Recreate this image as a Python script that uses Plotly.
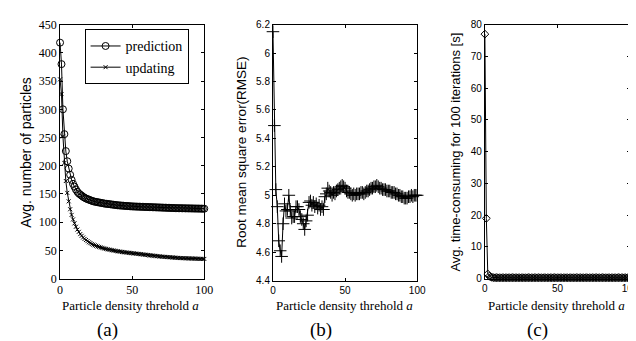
import plotly.graph_objects as go

W, H = 636, 341

x_vals = list(range(0, 101))

pred = [418,380,300,256,226,208,195,184,175,168,
        163,158,154,151,149,147,145,143.5,142,141,
        140,139,138,137,136.5,136,135.5,135,134.5,134,
        133.5,133,132.7,132.4,132,131.7,131.4,131,130.7,130.4,
        130,129.8,129.6,129.4,129.2,129,128.8,128.6,128.4,128.2,
        128,127.9,127.8,127.7,127.6,127.5,127.4,127.3,127.2,127.1,
        127,126.9,126.8,126.7,126.6,126.5,126.4,126.3,126.2,126.1,
        126,125.9,125.8,125.7,125.6,125.5,125.4,125.3,125.2,125.1,
        125,124.9,124.9,124.8,124.8,124.7,124.7,124.6,124.6,124.5,
        124.5,124.4,124.4,124.3,124.3,124.2,124.2,124.1,124.1,124,124]

upd = [353,327,252,205,173,152,137,123,113,105,
       98,92,87,83,79,76,73,70.5,68.5,66.5,
       64.5,63,61.5,60.3,59.2,58.2,57.2,56.3,55.5,54.7,
       54,53.3,52.7,52.1,51.5,51,50.5,50,49.5,49,
       48.6,48.2,47.8,47.4,47,46.7,46.4,46.1,45.8,45.5,
       45.2,44.9,44.6,44.3,44,43.7,43.4,43.1,42.8,42.5,
       42.2,41.9,41.6,41.3,41,40.7,40.4,40.1,39.8,39.5,
       39.2,39,38.8,38.6,38.4,38.2,38,37.8,37.6,37.4,
       37.2,37,36.8,36.6,36.5,36.4,36.3,36.2,36.1,36,
       35.9,35.8,35.7,35.6,35.5,35.4,35.3,35.2,35.1,35,35]

rmse = [6.15,5.49,5.04,4.92,4.68,4.61,4.57,4.80,4.94,4.89,
        4.90,5.00,4.89,4.84,4.85,4.85,4.92,4.92,4.90,4.85,
        4.83,4.80,4.76,4.82,4.86,4.95,4.96,4.93,4.95,4.92,
        4.94,4.91,4.93,4.90,4.92,4.90,4.99,5.01,5.05,5.03,
        5.02,5.00,5.02,5.01,5.03,5.04,5.05,5.06,5.07,5.06,
        5.05,5.03,5.02,5.02,5.01,5.00,5.01,5.00,5.01,5.01,
        5.01,5.02,5.02,5.01,5.02,5.03,5.03,5.04,5.05,5.05,
        5.06,5.06,5.07,5.06,5.05,5.05,5.04,5.04,5.04,5.03,
        5.03,5.03,5.02,5.02,5.02,5.01,5.01,5.00,5.00,4.99,
        4.99,4.98,4.98,4.98,4.99,4.99,5.00,4.99,5.00,5.00,5.00]

tcost = [77,19,1.5,0.8,0.5,0.4,0.35,0.3,0.3,0.3,
         0.3,0.3,0.3,0.3,0.3,0.3,0.3,0.3,0.3,0.3,
         0.3,0.3,0.3,0.3,0.3,0.3,0.3,0.3,0.3,0.3,
         0.3,0.3,0.3,0.3,0.3,0.3,0.3,0.3,0.3,0.3,
         0.3,0.3,0.3,0.3,0.3,0.3,0.3,0.3,0.3,0.3,
         0.3,0.3,0.3,0.3,0.3,0.3,0.3,0.3,0.3,0.3,
         0.3,0.3,0.3,0.3,0.3,0.3,0.3,0.3,0.3,0.3,
         0.3,0.3,0.3,0.3,0.3,0.3,0.3,0.3,0.3,0.3,
         0.3,0.3,0.3,0.3,0.3,0.3,0.3,0.3,0.3,0.3,
         0.3,0.3,0.3,0.3,0.3,0.3,0.3,0.3,0.3,0.3,0.3]

x_ticks = [0, 50, 100]
a_yticks = [0, 50, 100, 150, 200, 250, 300, 350, 400, 450]
b_yticks = [4.4, 4.6, 4.8, 5.0, 5.2, 5.4, 5.6, 5.8, 6.0, 6.2]
b_yticklabels = ["4.4", "4.6", "4.8", "5", "5.2", "5.4", "5.6", "5.8", "6", "6.2"]
c_yticks = [0, 10, 20, 30, 40, 50, 60, 70, 80]

xtitle = "Particle density threhold <i>a</i>"
ytitles = ["Avg. number of particles", "Root mean square error(RMSE)",
           "Avg. time-consuming for 100 iterations [s]"]
captions = ["(a)", "(b)", "(c)"]

SERIF = "Liberation Serif"
SANS = "Liberation Sans"


def px_x(v):
    return v / W


def px_y(v):
    return 1 - v / H


fig = go.Figure()

fig.add_trace(go.Scatter(x=x_vals, y=pred, mode="lines+markers", name="prediction",
                         line=dict(color="black", width=1),
                         marker=dict(symbol="circle-open", size=7, color="black",
                                     line=dict(width=1, color="black")),
                         xaxis="x", yaxis="y", cliponaxis=False))
fig.add_trace(go.Scatter(x=x_vals, y=upd, mode="lines+markers", name="updating",
                         line=dict(color="black", width=1),
                         marker=dict(symbol="x-thin", size=4, color="black",
                                     line=dict(width=1, color="black")),
                         xaxis="x", yaxis="y", cliponaxis=False))
fig.add_trace(go.Scatter(x=x_vals, y=rmse, mode="lines+markers", name="rmse",
                         showlegend=False,
                         line=dict(color="black", width=1),
                         marker=dict(symbol="cross-thin", size=9, color="black",
                                     line=dict(width=1, color="black")),
                         xaxis="x2", yaxis="y2", cliponaxis=False))
fig.add_trace(go.Scatter(x=x_vals, y=tcost, mode="lines+markers", name="time",
                         showlegend=False,
                         line=dict(color="black", width=1),
                         marker=dict(symbol="diamond-open", size=6, color="black",
                                     line=dict(width=1, color="black")),
                         xaxis="x3", yaxis="y3", cliponaxis=False))

domains = [
    ((50, 197), (10, 275)),
    ((267, 414), (10, 277)),
    ((483, 631), (10, 275)),
]

common_axis = dict(showline=True, linecolor="black", linewidth=1, mirror="ticks",
                   ticks="inside", ticklen=3, tickcolor="black", showgrid=False,
                   zeroline=False)

xfonts = [dict(family=SERIF, size=12, color="black"),
          dict(family=SANS, size=10, color="black"),
          dict(family=SANS, size=10, color="black")]
yfonts = xfonts

layout_axes = {}
yranges = [[0, 450], [4.4, 6.2], [0, 80]]
yticks = [a_yticks, b_yticks, c_yticks]
ytext = [[str(v) for v in a_yticks], b_yticklabels, [str(v) for v in c_yticks]]
for i, ((x0, x1), (y0, y1)) in enumerate(domains):
    sfx = "" if i == 0 else str(i + 1)
    layout_axes["xaxis" + sfx] = dict(common_axis, domain=[px_x(x0), px_x(x1)],
                                      range=[0, 100], tickvals=x_ticks,
                                      ticktext=[str(v) for v in x_ticks],
                                      tickfont=xfonts[i],
                                      anchor="y" + sfx)
    layout_axes["yaxis" + sfx] = dict(common_axis, domain=[px_y(y1), px_y(y0)],
                                      range=yranges[i], tickvals=yticks[i],
                                      ticktext=ytext[i], tickfont=yfonts[i],
                                      anchor="x" + sfx)

fig.update_layout(**layout_axes)

annotations = []
xt_centers = [122, 340, 556]
cap_centers = [98, 316, 537]
yt_x = [15, 235, 453]
yt_sizes = [14, 13.5, 13]
for i in range(3):
    annotations.append(dict(text=xtitle, x=px_x(xt_centers[i]), y=px_y(303),
                            xref="paper", yref="paper", showarrow=False,
                            xanchor="center", yanchor="middle",
                            font=dict(family=SERIF, size=13, color="black")))
    annotations.append(dict(text=captions[i], x=px_x(cap_centers[i]), y=px_y(329),
                            xref="paper", yref="paper", showarrow=False,
                            xanchor="center", yanchor="middle",
                            font=dict(family=SERIF, size=19, color="black")))
    annotations.append(dict(text=ytitles[i], x=px_x(yt_x[i]), y=px_y(143),
                            xref="paper", yref="paper", showarrow=False,
                            textangle=-90, xanchor="center", yanchor="middle",
                            font=dict(family=SANS, size=yt_sizes[i],
                                      color="black")))

fig.update_layout(
    width=W, height=H, autosize=False,
    margin=dict(l=0, r=0, t=0, b=0),
    paper_bgcolor="white", plot_bgcolor="white",
    annotations=annotations,
    legend=dict(x=px_x(75), y=px_y(15), xanchor="left", yanchor="top",
                bordercolor="black", borderwidth=1, bgcolor="white",
                font=dict(family=SERIF, size=14, color="black"),
                itemwidth=30, tracegroupgap=0),
    showlegend=True,
)

fig.write_html("out.html")
